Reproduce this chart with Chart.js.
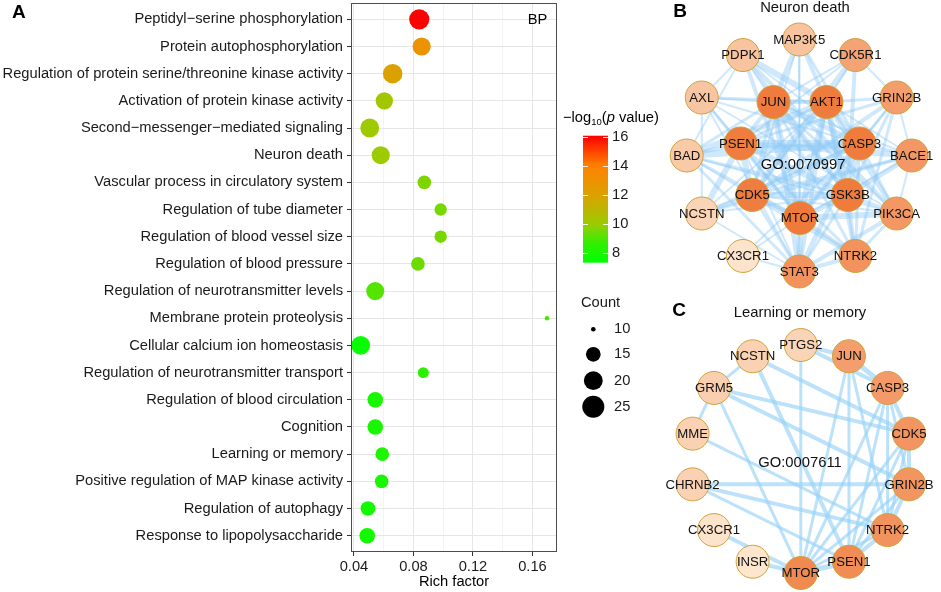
<!DOCTYPE html>
<html>
<head>
<meta charset="utf-8">
<script src="https://cdn.jsdelivr.net/npm/chart.js@4.4.1/dist/chart.umd.min.js"></script>
<style>
html, body { margin: 0; padding: 0; background: #fff; width: 941px; height: 592px; overflow: hidden; }
canvas { position: absolute; }
#chartA { left: 0; top: 0; }
#chartB { left: 640px; top: 0; }
#chartC { left: 640px; top: 290px; }
</style>
</head>
<body>
<canvas id="chartA" width="700" height="592"></canvas>
<canvas id="chartB" width="301" height="290"></canvas>
<canvas id="chartC" width="301" height="302"></canvas>
<script>
// ---- panel A data ----
const terms = [
    "Peptidyl−serine phosphorylation",
    "Protein autophosphorylation",
    "Regulation of protein serine/threonine kinase activity",
    "Activation of protein kinase activity",
    "Second−messenger−mediated signaling",
    "Neuron death",
    "Vascular process in circulatory system",
    "Regulation of tube diameter",
    "Regulation of blood vessel size",
    "Regulation of blood pressure",
    "Regulation of neurotransmitter levels",
    "Membrane protein proteolysis",
    "Cellular calcium ion homeostasis",
    "Regulation of neurotransmitter transport",
    "Regulation of blood circulation",
    "Cognition",
    "Learning or memory",
    "Positive regulation of MAP kinase activity",
    "Regulation of autophagy",
    "Response to lipopolysaccharide"
];
const richFactor = [0.0839, 0.0855, 0.0660, 0.0604, 0.0506, 0.0580, 0.0873, 0.0983, 0.0983, 0.0830,
                    0.0543, 0.1698, 0.0445, 0.0866, 0.0543, 0.0543, 0.0590, 0.0586, 0.0494, 0.0489];
const geneCount  = [22, 19, 21, 18, 20, 19, 14, 13, 13, 14, 19, 10, 20, 12, 16, 16, 14, 14, 15, 16];
const logP       = [16.1, 13.0, 12.0, 10.2, 10.1, 10.0, 9.6, 9.5, 9.5, 9.4,
                    9.1, 9.0, 7.5, 8.5, 8.0, 8.0, 8.1, 8.0, 7.8, 7.8];
const xTicks     = [0.04, 0.06, 0.08, 0.10, 0.12, 0.14, 0.16];
const colorTicks = [8, 10, 12, 14, 16];
const countTicks = [10, 15, 20, 25];

// ---- panel B data (Neuron death, GO:0070997) ----
const bOuter = ["MAP3K5", "CDK5R1", "GRIN2B", "BACE1", "PIK3CA", "NTRK2", "STAT3", "CX3CR1", "NCSTN", "BAD", "AXL", "PDPK1"];
const bOuterShade = [0.32, 0.60, 0.65, 0.70, 0.70, 0.75, 0.75, 0.05, 0.18, 0.27, 0.31, 0.33];
const bInner = ["AKT1", "CASP3", "GSK3B", "MTOR", "CDK5", "PSEN1", "JUN"];
const bInnerShade = [0.95, 0.95, 0.95, 0.96, 0.93, 0.93, 0.94];
const bEdges = [
    ["AKT1","CASP3",5], ["AKT1","GSK3B",6], ["AKT1","MTOR",6], ["AKT1","CDK5",3], ["AKT1","PSEN1",3], ["AKT1","JUN",4],
    ["CASP3","GSK3B",5], ["CASP3","MTOR",5], ["CASP3","CDK5",5], ["CASP3","PSEN1",7], ["CASP3","JUN",5],
    ["GSK3B","MTOR",5], ["GSK3B","CDK5",6], ["GSK3B","PSEN1",6], ["GSK3B","JUN",4],
    ["MTOR","CDK5",4], ["MTOR","PSEN1",3], ["MTOR","JUN",4], ["CDK5","PSEN1",6], ["CDK5","JUN",3], ["PSEN1","JUN",4],
    ["AKT1","MAP3K5",4], ["AKT1","CDK5R1",2], ["AKT1","GRIN2B",3], ["AKT1","BACE1",2], ["AKT1","PIK3CA",5], ["AKT1","NTRK2",4],
    ["AKT1","STAT3",4], ["AKT1","BAD",6], ["AKT1","AXL",3], ["AKT1","PDPK1",6], ["AKT1","NCSTN",2],
    ["CASP3","MAP3K5",3], ["CASP3","GRIN2B",3], ["CASP3","BACE1",3], ["CASP3","PIK3CA",3], ["CASP3","NTRK2",3],
    ["CASP3","STAT3",5], ["CASP3","BAD",7], ["CASP3","AXL",2], ["CASP3","NCSTN",3], ["CASP3","CX3CR1",2], ["CASP3","PDPK1",2],
    ["GSK3B","CDK5R1",4], ["GSK3B","GRIN2B",3], ["GSK3B","BACE1",5], ["GSK3B","PIK3CA",4], ["GSK3B","NTRK2",4],
    ["GSK3B","STAT3",3], ["GSK3B","BAD",3], ["GSK3B","PDPK1",4], ["GSK3B","NCSTN",2],
    ["MTOR","MAP3K5",2], ["MTOR","GRIN2B",2], ["MTOR","BACE1",2], ["MTOR","PIK3CA",6], ["MTOR","NTRK2",4],
    ["MTOR","STAT3",6], ["MTOR","BAD",3], ["MTOR","PDPK1",4], ["MTOR","AXL",3], ["MTOR","CX3CR1",2],
    ["CDK5","CDK5R1",6], ["CDK5","GRIN2B",4], ["CDK5","BACE1",3], ["CDK5","NTRK2",5], ["CDK5","STAT3",3],
    ["CDK5","NCSTN",4], ["CDK5","BAD",2], ["CDK5","MAP3K5",2], ["CDK5","PIK3CA",2],
    ["PSEN1","BACE1",6], ["PSEN1","NCSTN",6], ["PSEN1","GRIN2B",3], ["PSEN1","CDK5R1",2], ["PSEN1","NTRK2",3],
    ["PSEN1","STAT3",2], ["PSEN1","BAD",4], ["PSEN1","AXL",2],
    ["JUN","MAP3K5",5], ["JUN","PDPK1",2], ["JUN","BAD",3], ["JUN","AXL",2], ["JUN","STAT3",5], ["JUN","NTRK2",3],
    ["JUN","PIK3CA",3], ["JUN","BACE1",2], ["JUN","CDK5R1",2],
    ["PDPK1","PIK3CA",4], ["PDPK1","BAD",2], ["PDPK1","AXL",2], ["MAP3K5","STAT3",2], ["NTRK2","STAT3",4],
    ["NTRK2","PIK3CA",3], ["PIK3CA","STAT3",4], ["BACE1","NCSTN",3], ["BACE1","GRIN2B",2], ["GRIN2B","NTRK2",3],
    ["AXL","PIK3CA",2], ["AXL","STAT3",2], ["BAD","PIK3CA",2], ["CX3CR1","STAT3",2], ["CDK5R1","GRIN2B",2],
    ["BACE1","PIK3CA",2], ["NCSTN","STAT3",2], ["AXL","NCSTN",2], ["BAD","STAT3",3]
];

// ---- panel C data (Learning or memory, GO:0007611) ----
const cNodes = ["PTGS2", "JUN", "CASP3", "CDK5", "GRIN2B", "NTRK2", "PSEN1", "MTOR", "INSR", "CX3CR1", "CHRNB2", "MME", "GRM5", "NCSTN"];
const cShade = [0.18, 0.65, 0.68, 0.72, 0.72, 0.74, 0.80, 0.82, 0.03, 0.05, 0.20, 0.20, 0.22, 0.20];
const cEdges = [
    ["PTGS2","JUN",4], ["PTGS2","CASP3",4], ["PTGS2","MTOR",3],
    ["NCSTN","GRM5",3], ["NCSTN","CDK5",4], ["NCSTN","PSEN1",4],
    ["GRM5","MME",3], ["GRM5","CDK5",4], ["GRM5","GRIN2B",4], ["GRM5","MTOR",3],
    ["MME","NTRK2",3], ["CHRNB2","GRIN2B",4], ["CHRNB2","NTRK2",4], ["CHRNB2","PSEN1",3],
    ["CX3CR1","MTOR",4], ["INSR","MTOR",4],
    ["JUN","CASP3",5], ["JUN","MTOR",3], ["JUN","PSEN1",3], ["JUN","NTRK2",3],
    ["CASP3","CDK5",4], ["CASP3","GRIN2B",3], ["CASP3","NTRK2",3], ["CASP3","PSEN1",3], ["CASP3","MTOR",3],
    ["CDK5","GRIN2B",4], ["CDK5","NTRK2",3], ["CDK5","PSEN1",3], ["CDK5","MTOR",3],
    ["GRIN2B","NTRK2",4], ["GRIN2B","PSEN1",3], ["GRIN2B","MTOR",3],
    ["NTRK2","PSEN1",4], ["NTRK2","MTOR",3], ["PSEN1","MTOR",5]
];

// ---- styling helpers ----
const FONT = "'Liberation Sans', Arial, Helvetica, sans-serif";
Chart.defaults.font.family = FONT;
Chart.defaults.color = "#1a1a1a";

const colorStops = [[7.3,[0,255,0]], [8.6,[46,240,0]], [10,[156,203,0]], [12,[219,161,0]], [14,[255,131,0]], [16.1,[255,0,0]]];
function pColor(v) {
    if (v <= colorStops[0][0]) return "rgb(" + colorStops[0][1].join(",") + ")";
    for (let i = 1; i < colorStops.length; i++) {
        const [v1, c1] = colorStops[i];
        const [v0, c0] = colorStops[i - 1];
        if (v <= v1) {
            const t = (v - v0) / (v1 - v0);
            return "rgb(" + c0.map((c, k) => Math.round(c + (c1[k] - c) * t)).join(",") + ")";
        }
    }
    return "rgb(255,0,0)";
}
function sizeOf(n) {
    return 2.3 + 2.25 * Math.sqrt(Math.max(n - 10, 0));
}
function nodeColor(t) {
    const lo = [253, 233, 211], hi = [238, 117, 53];
    return "rgb(" + lo.map((c, k) => Math.round(c + (hi[k] - c) * t)).join(",") + ")";
}

// ---- panel A ----
const legendA = {
    id: "legendA",
    afterDraw(chart) {
        const ctx = chart.ctx;
        const ca = chart.chartArea;
        ctx.save();
        ctx.strokeStyle = "#4d4d4d";
        ctx.lineWidth = 1;
        ctx.strokeRect(ca.left + 0.5, ca.top + 0.5, ca.right - ca.left - 1, ca.bottom - ca.top - 1);

        ctx.fillStyle = "#000";
        ctx.textBaseline = "middle";
        ctx.font = "bold 19px " + FONT;
        ctx.fillText("A", 12, 13);
        ctx.font = "14.7px " + FONT;
        ctx.textAlign = "center";
        ctx.fillText("BP", 537.5, 20);

        // colour bar title
        ctx.textAlign = "left";
        let x = 563;
        const ty = 118;
        ctx.font = "14.7px " + FONT;
        ctx.fillText("−log", x, ty); x += ctx.measureText("−log").width;
        ctx.font = "9.5px " + FONT;
        ctx.fillText("10", x, ty + 4); x += ctx.measureText("10").width;
        ctx.font = "14.7px " + FONT;
        ctx.fillText("(", x, ty); x += ctx.measureText("(").width;
        ctx.font = "italic 14.7px " + FONT;
        ctx.fillText("p", x, ty); x += ctx.measureText("p").width;
        ctx.font = "14.7px " + FONT;
        ctx.fillText(" value)", x, ty);

        // colour bar
        const bx = 583, bw = 25;
        const vTop = 16.11, vBot = 7.31;
        const yOf = v => 137.3 + (16 - v) * 14.43;
        const g = ctx.createLinearGradient(0, yOf(vTop), 0, yOf(vBot));
        for (let k = 0; k <= 40; k++) {
            const v = vTop - (vTop - vBot) * k / 40;
            g.addColorStop(k / 40, pColor(v));
        }
        ctx.fillStyle = g;
        ctx.fillRect(bx, yOf(vTop), bw, yOf(vBot) - yOf(vTop));
        ctx.strokeStyle = "rgba(255,255,255,0.9)";
        ctx.lineWidth = 1;
        ctx.fillStyle = "#1a1a1a";
        ctx.font = "14.7px " + FONT;
        colorTicks.forEach(v => {
            const y = Math.round(yOf(v)) + 0.5;
            ctx.beginPath();
            ctx.moveTo(bx, y); ctx.lineTo(bx + 5, y);
            ctx.moveTo(bx + bw - 5, y); ctx.lineTo(bx + bw, y);
            ctx.stroke();
            ctx.fillText(String(v), bx + bw + 4, yOf(v));
        });

        // size legend
        ctx.fillText("Count", 581, 303);
        const keyY = [329.3, 354.3, 380.7, 406.7];
        countTicks.forEach((n, i) => {
            ctx.fillStyle = "#000";
            ctx.beginPath();
            ctx.arc(593.3, keyY[i], sizeOf(n), 0, Math.PI * 2);
            ctx.fill();
            ctx.fillStyle = "#1a1a1a";
            ctx.fillText(String(n), 614, keyY[i]);
        });
        ctx.restore();
    }
};

new Chart(document.getElementById("chartA"), {
    type: "bubble",
    data: {
        datasets: [{
            data: terms.map((t, i) => ({ x: richFactor[i], y: i + 1, r: sizeOf(geneCount[i]) })),
            backgroundColor: logP.map(pColor),
            borderWidth: 0,
            hoverBorderWidth: 0
        }]
    },
    plugins: [legendA],
    options: {
        responsive: false,
        animation: false,
        events: [],
        layout: { autoPadding: false, padding: { top: 3, right: 143, left: 0, bottom: 0 } },
        plugins: { legend: { display: false }, tooltip: { enabled: false } },
        scales: {
            x: {
                type: "linear",
                min: 0.038,
                max: 0.1765,
                afterBuildTicks: s => { s.ticks = xTicks.map(v => ({ value: v })); },
                afterFit: s => { s.height = 40; s.paddingLeft = 0; s.paddingRight = 0; },
                border: { display: false },
                grid: {
                    color: c => (c.index % 2 === 0 ? "#e6e6e6" : "#f3f3f3"),
                    tickColor: c => (c.index % 2 === 0 ? "#333" : "rgba(0,0,0,0)"),
                    tickLength: 4,
                    lineWidth: 1
                },
                ticks: {
                    autoSkip: false,
                    maxRotation: 0,
                    padding: 2,
                    color: "#1a1a1a",
                    font: { size: 14.7 },
                    callback: (v, i) => (i % 2 === 0 ? v.toFixed(2) : "")
                },
                title: {
                    display: true,
                    text: "Rich factor",
                    color: "#000",
                    font: { size: 14.7 },
                    padding: { top: 0, bottom: 1 }
                }
            },
            y: {
                type: "linear",
                reverse: true,
                min: 0.4,
                max: 20.6,
                afterBuildTicks: s => { s.ticks = terms.map((t, i) => ({ value: i + 1 })); },
                afterFit: s => { s.width = 351; s.paddingTop = 0; s.paddingBottom = 0; },
                border: { display: false },
                grid: { color: "#e6e6e6", tickColor: "#333", tickLength: 4, lineWidth: 1 },
                ticks: {
                    autoSkip: false,
                    padding: 4,
                    color: "#1a1a1a",
                    font: { size: 14.7 },
                    callback: v => terms[Math.round(v) - 1]
                }
            }
        }
    }
});

// ---- network panels ----
function ringLayout(names, cx, cy, rx, ry, offset) {
    const pos = {};
    names.forEach((n, i) => {
        const a = (i + offset) * 2 * Math.PI / names.length;
        pos[n] = { x: cx + rx * Math.sin(a), y: cy - ry * Math.cos(a) };
    });
    return pos;
}

function networkChart(canvasId, nodes, shades, edges, pos, yRange, edgeColor, deco) {
    const labelPlugin = {
        id: "labels_" + canvasId,
        afterDatasetsDraw(chart) {
            const ctx = chart.ctx;
            const meta = chart.getDatasetMeta(0);
            ctx.save();
            ctx.fillStyle = "#111";
            ctx.textAlign = "center";
            ctx.textBaseline = "middle";
            ctx.font = "13.2px " + FONT;
            meta.data.forEach((el, i) => ctx.fillText(nodes[i], el.x, el.y + 0.5));
            deco(ctx, chart);
            ctx.restore();
        }
    };
    const datasets = [{
        data: nodes.map(n => pos[n]),
        backgroundColor: shades.map(nodeColor),
        borderColor: "#cfa23a",
        borderWidth: 1,
        pointRadius: 16.5,
        pointHoverRadius: 16.5,
        order: 0
    }];
    edges.forEach(([a, b, w]) => {
        datasets.push({
            data: [pos[a], pos[b]],
            showLine: true,
            borderColor: edgeColor,
            borderWidth: w,
            pointRadius: 0,
            order: 1
        });
    });
    return new Chart(document.getElementById(canvasId), {
        type: "scatter",
        data: { datasets },
        plugins: [labelPlugin],
        options: {
            responsive: false,
            animation: false,
            events: [],
            layout: { autoPadding: false, padding: 0 },
            plugins: { legend: { display: false }, tooltip: { enabled: false } },
            scales: {
                x: { type: "linear", min: 640, max: 941, display: false },
                y: { type: "linear", min: yRange[0], max: yRange[1], reverse: true, display: false }
            }
        }
    });
}

const bPos = Object.assign(
    ringLayout(bOuter, 799.2, 155.5, 112.5, 116, 0),
    ringLayout(bInner, 800, 157, 61, 61, 0.5)
);
networkChart("chartB", bOuter.concat(bInner), bOuterShade.concat(bInnerShade), bEdges, bPos, [0, 290],
    "rgba(140,200,245,0.42)",
    (ctx, chart) => {
        const xs = chart.scales.x, ys = chart.scales.y;
        ctx.fillStyle = "#111";
        ctx.font = "14.8px " + FONT;
        ctx.fillText("GO:0070997", xs.getPixelForValue(803), ys.getPixelForValue(165));
        ctx.fillText("Neuron death", xs.getPixelForValue(805), ys.getPixelForValue(8));
        ctx.font = "bold 19px " + FONT;
        ctx.fillStyle = "#000";
        ctx.fillText("B", xs.getPixelForValue(680), ys.getPixelForValue(12));
    });

const cPos = ringLayout(cNodes, 800.8, 459, 111, 114, 0);
networkChart("chartC", cNodes, cShade, cEdges, cPos, [290, 592],
    "rgba(150,210,248,0.65)",
    (ctx, chart) => {
        const xs = chart.scales.x, ys = chart.scales.y;
        ctx.fillStyle = "#111";
        ctx.font = "14.8px " + FONT;
        ctx.fillText("GO:0007611", xs.getPixelForValue(800), ys.getPixelForValue(463));
        ctx.fillText("Learning or memory", xs.getPixelForValue(800), ys.getPixelForValue(313));
        ctx.font = "bold 19px " + FONT;
        ctx.fillStyle = "#000";
        ctx.fillText("C", xs.getPixelForValue(679), ys.getPixelForValue(311));
    });
</script>
</body>
</html>
